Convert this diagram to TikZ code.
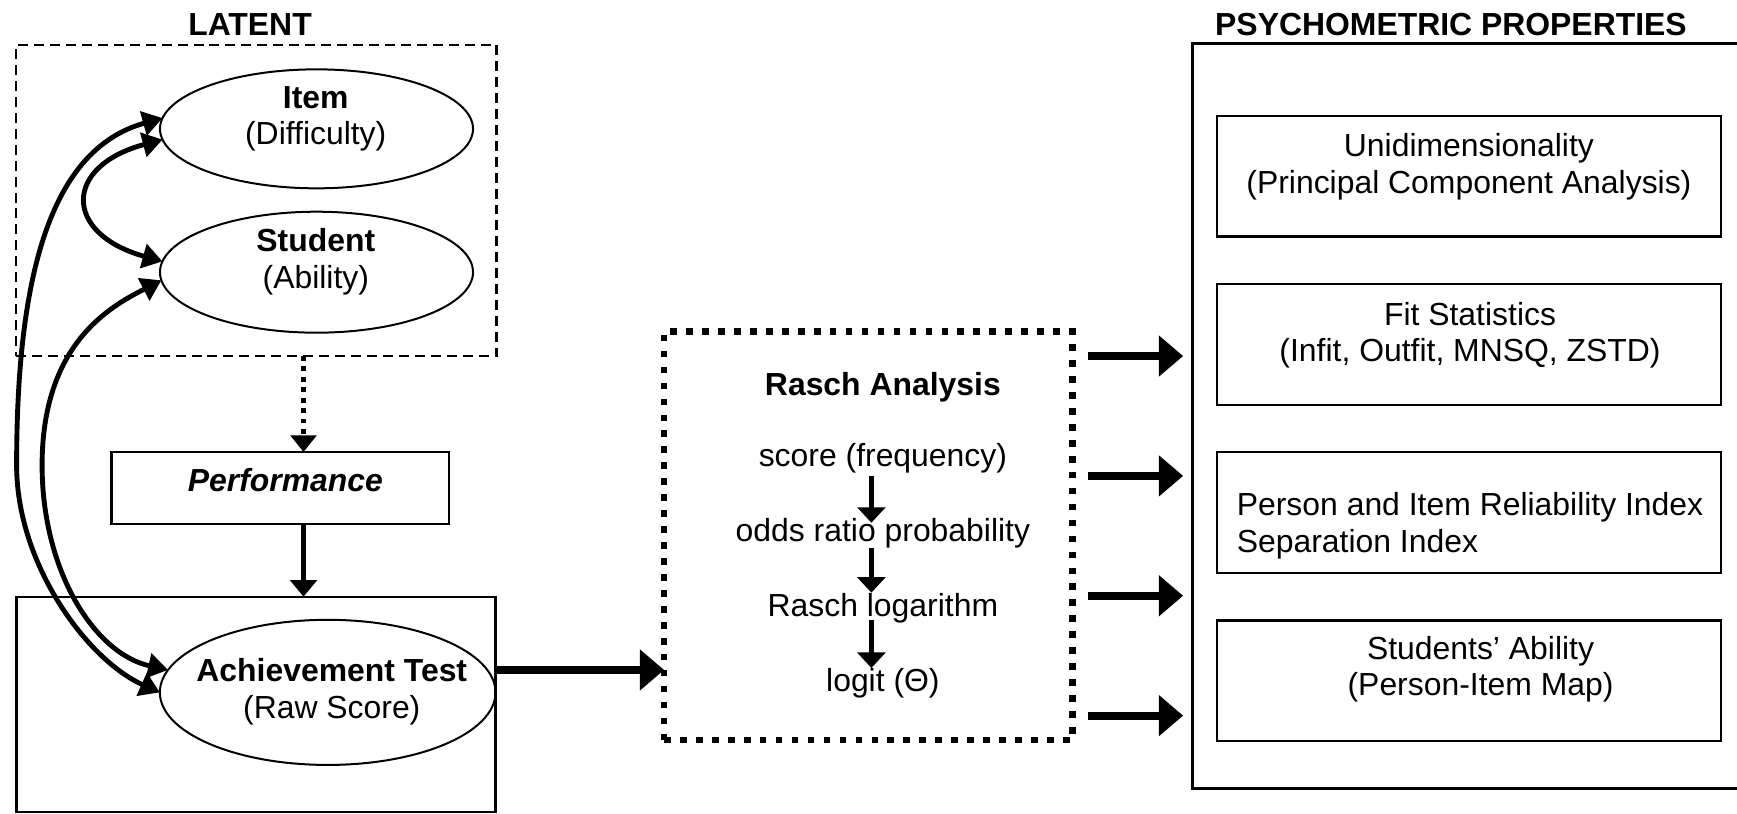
\documentclass[tikz,border=0pt]{standalone}
\usepackage{fontspec}
\setmainfont{Liberation Sans}
\usetikzlibrary{arrows.meta,shapes.geometric}

\begin{document}
\begin{tikzpicture}[x=0.5pt,y=-0.5pt,
  every node/.style={outer sep=0pt, inner sep=0pt},
  txt/.style={font=\fontsize{14.4}{16.5}\selectfont, align=center},
  title/.style={font=\fontsize{14.4}{16.5}\selectfont\bfseries},
  box/.style={draw, rectangle, line width=1pt},
  dashbox/.style={draw, rectangle, line width=1.1pt, dash pattern=on 4.5pt off 2.7pt},
  dotbox/.style={draw, rectangle, line width=3pt, dash pattern=on 3pt off 4.2pt},
  oval/.style={draw, ellipse, line width=0.9pt},
  curvearrow/.style={line width=2.2pt,
    {Triangle[length=9pt,width=11pt]}-{Triangle[length=9pt,width=11pt]}},
  bigarrow/.style={line width=3.6pt, -{Triangle[length=11pt,width=18pt]}},
  medarrow/.style={line width=2.3pt, -{Triangle[length=7.5pt,width=12pt]}},
  smallarrow/.style={line width=2.6pt, -{Triangle[length=7pt,width=12.5pt]}},
  dotarrow/.style={line width=2.2pt, dash pattern=on 2.2pt off 2.5pt,
    -{Triangle[length=7.5pt,width=11.5pt]}}
]
\useasboundingbox (0,0) rectangle (1568,734);

% ---------- latent constructs ----------
\node[title] (latenttitle) at (225.7,25) {\strut LATENT};
\node[dashbox, minimum width=216.9pt, minimum height=140.4pt] (latent) at (231.4,181) {};
\node[oval, minimum width=141.3pt, minimum height=53.7pt] (item) at (285.7,116.3) {};
\node[txt] (itemtext) at (285,107.7) {\strut\textbf{Item}\\\strut(Difficulty)};
\node[oval, minimum width=141.3pt, minimum height=54.6pt] (student) at (285.7,245.7) {};
\node[txt] (studenttext) at (285.1,237.1) {\strut\textbf{Student}\\\strut(Ability)};

% ---------- observed performance ----------
\node[box, minimum width=152.15pt, minimum height=32.5pt] (perf) at (252.85,440.5) {};
\node[txt] (perftext) at (257.6,436.7) {\strut\textbf{\textit{Performance}}};

\node[box, minimum width=216.2pt, minimum height=97.1pt] (achbox) at (231.1,635.7) {};
\node[oval, minimum width=151.5pt, minimum height=65.5pt] (ach) at (295.8,625) {};
\node[txt] (achtext) at (299.5,625.2) {\strut\textbf{Achievement Test}\\\strut(Raw Score)};

% ---------- Rasch analysis ----------
\node[dotbox, minimum width=184.35pt, minimum height=184.3pt] (rasch) at (783.85,483.7) {};
\node[txt] (rtitle) at (797,350) {\strut\textbf{Rasch Analysis}};
\node[txt] (r1) at (797,414.7) {\strut score (frequency)};
\node[txt] (r2) at (797,482.4) {\strut odds ratio probability};
\node[txt] (r3) at (797,550.1) {\strut Rasch logarithm};
\node[txt] (r4) at (797,617.8) {\strut logit (Θ)};

% ---------- psychometric properties ----------
\node[title] (ptitle) at (1309.8,25) {\strut PSYCHOMETRIC PROPERTIES};
\node[box, line width=1.2pt, minimum width=251.8pt, minimum height=336.25pt] (props) at (1328.2,375.35) {};
\node[box, minimum width=227.6pt, minimum height=54.35pt] (p1) at (1326.2,159.2) {};
\node[box, minimum width=227.6pt, minimum height=54.35pt] (p2) at (1326.2,311.0) {};
\node[box, minimum width=227.6pt, minimum height=54.35pt] (p3) at (1326.2,462.6) {};
\node[box, minimum width=227.6pt, minimum height=54.35pt] (p4) at (1326.2,614.4) {};
\node[txt] (p1text) at (1326,151.3) {\strut Unidimensionality\\\strut(Principal Component Analysis)};
\node[txt] (p2text) at (1327,303.3) {\strut Fit Statistics\\\strut(Infit, Outfit, MNSQ, ZSTD)};
\node[txt, align=left, anchor=west] (p3text) at (1116.5,475.4) {\strut Person and Item Reliability Index\\\strut Separation Index};
\node[txt] (p4text) at (1336.5,605.1) {\strut Students’ Ability\\\strut(Person-Item Map)};

% ---------- connectors ----------
\coordinate (axis) at (274,0);
\draw[dotarrow] (latent.south -| axis) -- (perf.north -| axis);
\draw[medarrow] (perf.south -| axis) -- (achbox.north -| axis);

% correlations between the latent traits and the test
\draw[curvearrow] (item.184) .. controls (56.9,150) and (56.9,211) .. (student.176);
\draw[curvearrow] (item.176) .. controls (45,135) and (15,250) .. (15,420)
  .. controls (15,510) and (79.6,596.2) .. (ach.180);
\draw[curvearrow] (student.183) .. controls (99.7,276.7) and (38,310) .. (38,420)
  .. controls (38,515) and (85,590) .. (ach.172);

% raw scores into the Rasch model
\draw[bigarrow] (achbox.east |- ach.172) -- (rasch.west |- ach.172);

% steps of the transformation
\draw[smallarrow] ([xshift=-5.2pt,yshift=0.6pt]r1.south) -- ([xshift=-5.2pt,yshift=-3pt]r2.north);
\draw[smallarrow] ([xshift=-5.2pt,yshift=2pt]r2.south) -- ([xshift=-5.2pt,yshift=-0.7pt]r3.north);
\draw[smallarrow] ([xshift=-5.2pt,yshift=3.3pt]r3.south) -- ([xshift=-5.2pt,yshift=-0.85pt]r4.north);

% outputs of the analysis
\foreach \dy [count=\i] in {-162.3,-54.1,54.1,162.3} {
  \coordinate (out\i) at ([shift={(13.8,\dy)}]rasch.east);
  \draw[bigarrow, shorten >=4.2pt] (out\i) -- (out\i -| props.west);
}
\end{tikzpicture}
\end{document}
